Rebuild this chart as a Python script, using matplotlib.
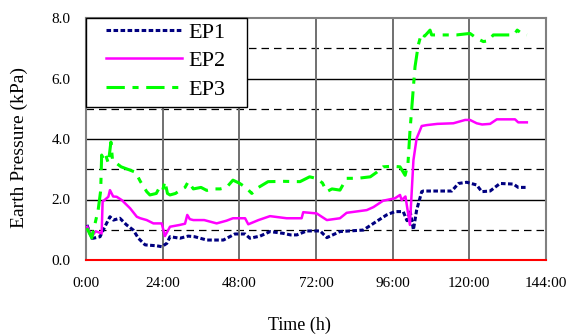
import matplotlib

matplotlib.use("Agg")
import matplotlib.pyplot as plt
from matplotlib.patches import Rectangle

# time (h) and earth pressure (kPa)
ep1_t = [0.3, 1.8, 2.3, 4.4, 5.9, 7.5, 8.6, 10.6, 12.7, 14.8, 16.4, 18.5, 22.1, 23.7,
         25.3, 26.3, 29.4, 32, 34, 37.8, 43, 45, 46.6, 49.8, 51.3, 54.5, 57.6, 61.8,
         64, 66, 69.1, 73.3, 75.4, 79.5, 86.8, 90, 94.1, 96.7, 99.3, 100.5, 101.4,
         102.5, 103.5, 105.1, 105.6, 114.5, 116.6, 119.2, 122.3, 123.9, 126.5, 129.6,
         133.8, 135.3, 138]
ep1_v = [1.16, 0.72, 0.72, 0.77, 1.1, 1.43, 1.32, 1.38, 1.16, 0.99, 0.72, 0.5, 0.47, 0.44,
         0.55, 0.77, 0.72, 0.79, 0.77, 0.66, 0.66, 0.77, 0.86, 0.86, 0.72, 0.79, 0.94, 0.88,
         0.83, 0.83, 0.96, 0.96, 0.74, 0.94, 0.99, 1.21, 1.49, 1.6, 1.6, 1.3, 1.65,
         1.0, 1.65, 2.26, 2.28, 2.28, 2.53, 2.57, 2.48, 2.26, 2.28, 2.53,
         2.51, 2.4, 2.4]

ep2_t = [0.4, 1.8, 3, 4.9, 5.2, 6, 7, 7.5, 8.5, 9.6, 11.2, 13.8, 15.9, 17, 19, 21.1, 23.7,
         24.7, 26.3, 29.4, 31, 31.7, 32.5, 33.6, 37, 40.9, 44, 46, 49.8, 50.8, 54, 57.6,
         62.8, 67.5, 68, 72.2, 75.4, 79.5, 81.6, 87.9, 90, 93, 96.7, 98.3, 98.8, 100,
         101.4, 102.5, 103.5, 105.1, 106.7, 110, 115, 118.7, 120.2, 122.3, 124, 126.5,
         128.6, 134.3, 135.3, 138]
ep2_v = [1.1, 0.77, 0.95, 0.88, 1.93, 2.0, 2.09, 2.31, 2.1, 2.09, 1.98, 1.71, 1.43, 1.38,
         1.32, 1.21, 1.21, 0.79, 1.1, 1.16, 1.2, 1.49, 1.35, 1.32, 1.32, 1.21, 1.3, 1.38,
         1.38, 1.18, 1.32, 1.45, 1.38, 1.38, 1.58, 1.54, 1.32, 1.38, 1.56, 1.65, 1.75,
         1.96, 2.04, 2.15, 1.98, 2.1, 1.16, 3.3, 4.02, 4.43, 4.46, 4.5, 4.52, 4.63, 4.63,
         4.52, 4.48, 4.5, 4.65, 4.65, 4.55, 4.55]

ep3_t = [0.3, 1.8, 3.8, 4.6, 4.9, 5.5, 6.2, 7, 7.8, 8.3, 9.5, 11, 13.8, 15.5, 17, 19, 20,
         22, 23, 24, 24.7, 25.5, 26.3, 28, 29.4, 31, 32, 33.6, 36, 37.8, 40, 42, 44, 46,
         48, 50, 51.9, 54, 57, 62, 67, 70, 72, 74, 75.4, 77, 79.5, 81.6, 85, 89, 91, 93,
         96, 98.3, 99.9, 100.8, 101.4, 102.5, 103, 104, 105, 106, 107.7, 108.2, 112, 116,
         120.2, 122.3, 124.4, 126, 127.5, 130, 134, 135, 136.4, 138]
ep3_v = [1.05, 0.73, 1.65, 2.3, 3.47, 3.3, 3.45, 3.2, 3.9, 3.3, 3.2, 3.08, 2.97, 2.9, 2.6,
         2.26, 2.15, 2.2, 2.4, 2.3, 2.6, 2.2, 2.15, 2.2, 2.3, 2.4, 2.59, 2.35, 2.4, 2.3,
         2.35, 2.35, 2.4, 2.64, 2.54, 2.4, 2.2, 2.4, 2.59, 2.6, 2.59, 2.75, 2.7, 2.55,
         2.26, 2.35, 2.31, 2.7, 2.7, 2.75, 2.9, 3.08, 3.1, 3.08, 2.8, 3.2, 4.24, 5.73,
         6.39, 7.1, 7.49, 7.4, 7.6, 7.44, 7.44, 7.44, 7.49, 7.33, 7.22, 7.25, 7.44, 7.44,
         7.44, 7.6, 7.49, 7.44]

x_ticks = [0, 24, 48, 72, 96, 120, 144]
x_labels = ["0:00", "24:00", "48:00", "72:00", "96:00", "120:00", "144:00"]
y_ticks = [0, 2, 4, 6, 8]

plt.rcParams["font.family"] = ["Liberation Serif", "DejaVu Serif"]

W, H = 566, 336
fig = plt.figure(figsize=(W / 100, H / 100), dpi=100)
ax = fig.add_axes([86 / W, 1 - 260 / H, 460 / W, 242 / H])

# grid: solid at even values, dashed at odd, grey verticals
for y in [2, 4, 6]:
    ax.axhline(y, color="black", lw=1.0, zorder=1)
for y in [1, 3, 5, 7]:
    ax.axhline(y, color="black", lw=0.9, ls=(0, (6, 4)), zorder=1)
for x in x_ticks[1:-1]:
    ax.axvline(x, color="#707070", lw=1.4, zorder=1)

ax.plot(ep1_t, ep1_v, color="#000080", lw=2.2, ls=(0, (1.5, 0.8)), label="EP1", zorder=3)
ax.plot(ep2_t, ep2_v, color="#FF00FF", lw=1.8, label="EP2", zorder=3)
ax.plot(ep3_t, ep3_v, color="#00FF00", lw=2.2, ls=(0, (6, 2.5, 2, 2.5)), label="EP3", zorder=4)

ax.set_xlim(0, 144)
ax.set_ylim(0, 8)
ax.set_xticks(x_ticks)
ax.set_xticklabels(x_labels)
ax.set_yticks(y_ticks)
ax.set_yticklabels([f"{v:.1f}" for v in y_ticks])
ax.tick_params(length=0, labelsize=11)
ax.tick_params(axis="x", pad=12)
ax.tick_params(axis="y", pad=11)

for side in ["top", "right", "left"]:
    ax.spines[side].set_color("#808080")
    ax.spines[side].set_linewidth(1.5)
ax.spines["bottom"].set_color("#FF0000")
ax.spines["bottom"].set_linewidth(1.5)

# legend box drawn separately so its padding matches the reference
box = Rectangle((86 / W, 1 - 107 / H), 161 / W, 89 / H, transform=fig.transFigure,
                facecolor="white", edgecolor="black", lw=1.0, zorder=8, clip_on=False)
ax.add_patch(box)
leg = ax.legend(loc="upper left", bbox_to_anchor=(106 / W, 1 - 22 / H),
                bbox_transform=fig.transFigure, borderaxespad=0, borderpad=0,
                fontsize=16, frameon=False, handlelength=3.4, handletextpad=0.3,
                labelspacing=0.36)
leg.set_zorder(10)

fig.text(19 / W, 1 - 147 / H, "Earth Pressure (kPa)", rotation=90, fontsize=14,
         ha="center", va="center")
fig.text(299 / W, 1 - 325 / H, "Time (h)", fontsize=13, ha="center", va="center")

fig.savefig("out.png", dpi=100)
